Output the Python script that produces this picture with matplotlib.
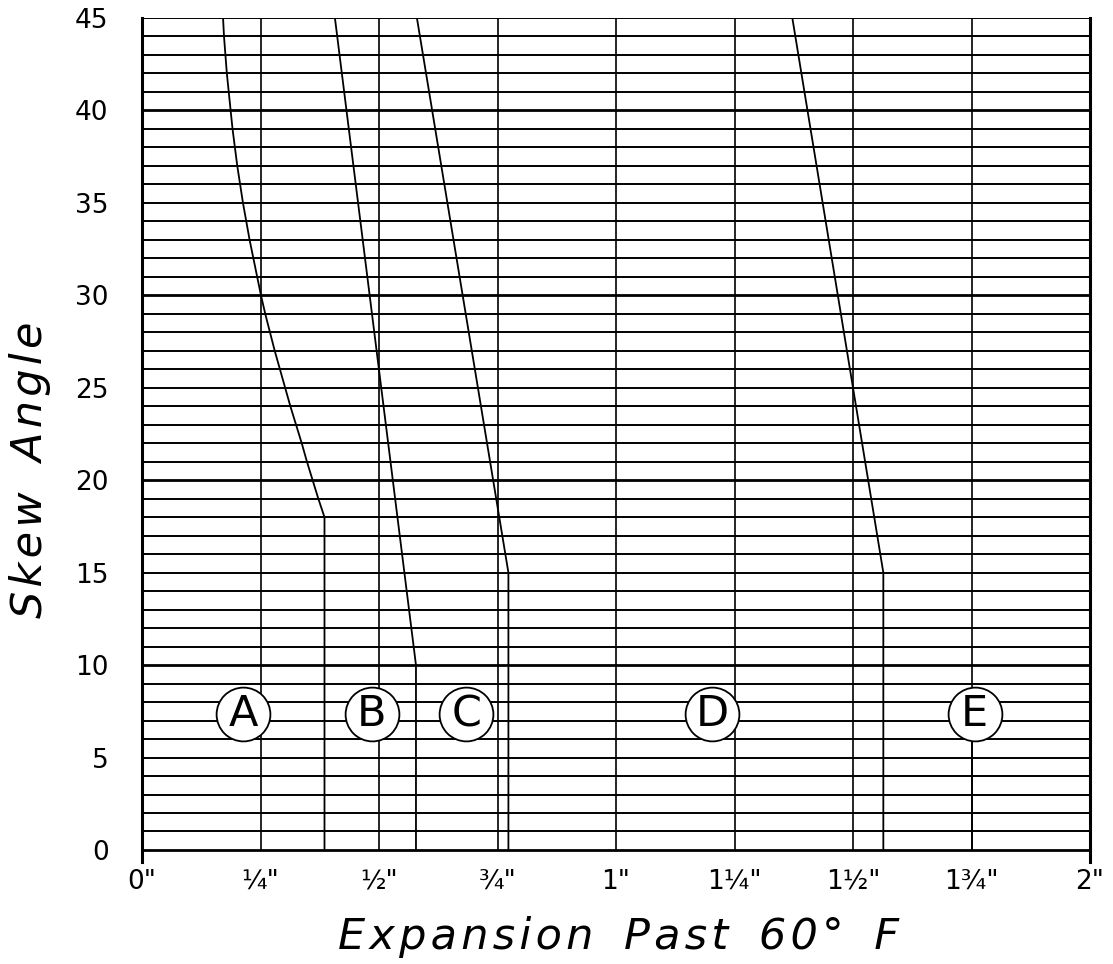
import numpy as np
import matplotlib
matplotlib.use("Agg")
import matplotlib.pyplot as plt

# skew angle (deg) vs expansion past 60 F (inches)
curve_a_deg = [45, 44, 43, 42, 41, 40, 39, 38, 37, 36, 35, 34, 33, 32, 31,
               30, 29, 28, 27, 26, 25, 24, 23, 22, 21, 20, 19, 18, 0]
curve_a_in = [0.171, 0.173, 0.176, 0.179, 0.183, 0.187, 0.191, 0.196,
              0.201, 0.207, 0.213, 0.220, 0.227, 0.235, 0.243, 0.251,
              0.260, 0.270, 0.280, 0.291, 0.302, 0.313, 0.325, 0.337,
              0.348, 0.360, 0.372, 0.385, 0.385]
curve_b_deg = [45, 10, 0]
curve_b_in = [0.407, 0.578, 0.578]
curve_c_deg = [45, 15, 0]
curve_c_in = [0.580, 0.773, 0.773]
curve_d_deg = [45, 15, 0]
curve_d_in = [1.372, 1.564, 1.564]
curve_e_deg = [7.35, 0]
curve_e_in = [1.751, 1.751]

curves = [(curve_a_in, curve_a_deg), (curve_b_in, curve_b_deg),
          (curve_c_in, curve_c_deg), (curve_d_in, curve_d_deg),
          (curve_e_in, curve_e_deg)]

label_names = ["A", "B", "C", "D", "E"]
label_x = [0.214, 0.485, 0.684, 1.2025, 1.757]
label_y = 7.35

x_ticks = [0, 0.25, 0.5, 0.75, 1, 1.25, 1.5, 1.75, 2]
x_tick_labels = ['0"', '\u00bc"', '\u00bd"', '\u00be"', '1"',
                 '1\u00bc"', '1\u00bd"', '1\u00be"', '2"']
y_ticks = list(range(0, 46, 5))

HAIR = "\u200a"


def spaced(s):
    # letter-spaced text: hair space between letters, wider gap between words
    words = [HAIR.join(w) for w in s.split(" ")]
    return (HAIR * 2 + " " + HAIR * 2).join(words)


fig = plt.figure(figsize=(11.13, 9.64), dpi=100)
ax = fig.add_axes([142 / 1113, 1 - 862 / 964, 948 / 1113, 844 / 964])

ax.set_xlim(0, 2)
ax.set_ylim(-0.65, 45)

# horizontal grid, one line per degree, heavier every 10
for d in range(0, 46):
    lw = 2.0 if d % 10 == 0 else 1.4
    ax.plot([0, 2], [d, d], color="black", lw=lw, solid_capstyle="butt", zorder=1)

# vertical grid every quarter inch
for xv in x_ticks[1:-1]:
    ax.plot([xv, xv], [0, 45], color="black", lw=1.2, zorder=1)

for xs, ys in curves:
    ax.plot(xs, ys, color="black", lw=1.3, zorder=2)

ax.scatter(label_x, [label_y] * len(label_x), s=1500, facecolor="white",
           edgecolor="black", linewidth=1.3, zorder=3)
for name, xv in zip(label_names, label_x):
    ax.text(xv, label_y, name, ha="center", va="center", fontsize=31, zorder=4)

for side in ["top", "bottom"]:
    ax.spines[side].set_visible(False)
for side in ["left", "right"]:
    ax.spines[side].set_linewidth(2.2)

ax.set_xticks(x_ticks)
ax.set_xticklabels(x_tick_labels, fontsize=19)
ax.set_yticks(y_ticks)
ax.set_yticklabels([str(v) for v in y_ticks], fontsize=19)
ax.tick_params(axis="both", length=0)
ax.tick_params(axis="x", pad=5)
ax.tick_params(axis="y", pad=24)

fig.text(619 / 1113, 1 - 937 / 964, spaced("Expansion Past 60\u00b0 F"),
         ha="center", va="center", fontsize=31, style="italic")
fig.text(30 / 1113, 1 - 470 / 964, spaced("Skew Angle"), rotation=90,
         ha="center", va="center", fontsize=31, style="italic")

fig.savefig("out.png", dpi=100)
